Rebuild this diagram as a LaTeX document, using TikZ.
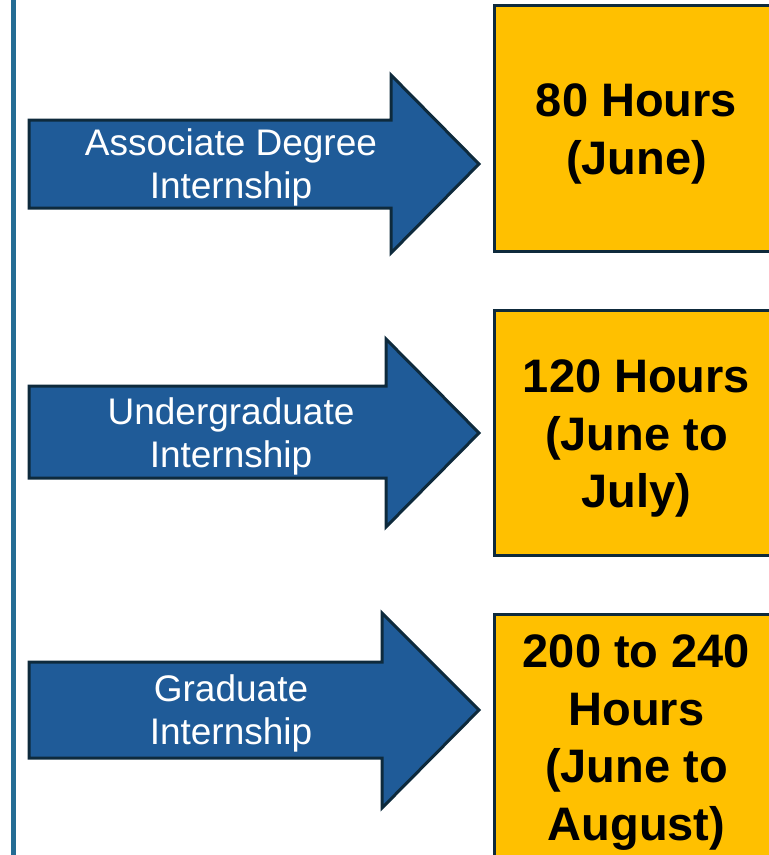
\documentclass[tikz,border=0pt]{standalone}
\usepackage{fontspec}
\setmainfont{Liberation Sans}
\definecolor{arrowblue}{RGB}{31,91,152}
\definecolor{edgedark}{RGB}{14,42,60}
\definecolor{boxgold}{RGB}{255,192,0}
\definecolor{railblue}{RGB}{36,108,148}

\begin{document}
\begin{tikzpicture}[x=1pt,y=-1pt,line join=miter,
    hourbox/.style={draw=edgedark,line width=3pt,fill=boxgold,minimum width=285pt,inner sep=0pt},
    hourtext/.style={align=center,inner sep=0pt,font=\fontsize{47}{57.5}\selectfont\bfseries},
    arrowlabel/.style={text=white,align=center,font=\fontsize{37}{43}\selectfont}]
  \useasboundingbox (0,0) rectangle (769,855);
  \begin{scope}
    \clip (0,0) rectangle (769,855);
    % left rail
    \draw[railblue,line width=4.5pt] (13.5,0) -- (13.5,855);
    % arrows: shaft top/bottom, head top/bottom, head base, tip
    \foreach \st/\sb/\ht/\hb/\bx/\ty in {120/208/75/253/391/164,
        386/478/339/527/386/433, 662/758/613/808/382/710}
      \draw[draw=edgedark,fill=arrowblue,line width=3pt]
        (29,\st) -- (\bx,\st) -- (\bx,\ht) -- (479,\ty) -- (\bx,\hb)
        -- (\bx,\sb) -- (29,\sb) -- cycle;
    \node[arrowlabel] (assoc) at (231,167) {Associate Degree\\Internship};
    \node[arrowlabel] (under) at (231,436) {Undergraduate\\Internship};
    \node[arrowlabel] (grad) at (231,713) {Graduate\\Internship};
    % hour boxes
    \node[hourbox,minimum height=246pt] (june) at (636.5,128) {};
    \node[hourbox,minimum height=245pt] (junejuly) at (636.5,432.5) {};
    \node[hourbox,minimum height=248pt] (juneaug) at (636.5,738) {};
    \node[hourtext] (junetext) at ([yshift=-6pt]june) {80 Hours\\(June)};
    \node[hourtext] (junejulytext) at ([yshift=-6pt]junejuly) {120 Hours\\(June to\\July)};
    \node[hourtext] (juneaugtext) at ([yshift=-4.5pt]juneaug) {200 to 240\\Hours\\(June to\\August)};
  \end{scope}
\end{tikzpicture}
\end{document}
